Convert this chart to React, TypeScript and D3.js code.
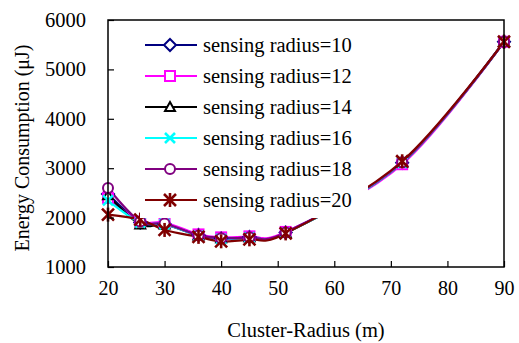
import React, { useRef, useEffect } from "react";
import * as d3 from "d3";

const clusterRadius = [20, 25.7, 30, 36, 40, 45, 51.4, 72, 90];
const r10 = [2480, 1900, 1870, 1650, 1580, 1610, 1700, 3110, 5560];
const r12 = [2400, 1920, 1900, 1660, 1600, 1620, 1710, 3080, 5560];
const r14 = [2450, 1860, 1860, 1640, 1580, 1600, 1690, 3110, 5560];
const r16 = [2350, 1900, 1870, 1630, 1570, 1600, 1690, 3110, 5560];
const r18 = [2600, 1920, 1880, 1640, 1580, 1600, 1700, 3120, 5560];
const r20 = [2060, 1960, 1750, 1610, 1520, 1560, 1680, 3140, 5560];
const seriesNames = [
    "sensing radius=10",
    "sensing radius=12",
    "sensing radius=14",
    "sensing radius=16",
    "sensing radius=18",
    "sensing radius=20",
];
const xTicks = [20, 30, 40, 50, 60, 70, 80, 90];
const yTicks = [1000, 2000, 3000, 4000, 5000, 6000];

const seriesValues = [r10, r12, r14, r16, r18, r20];
const colors = ["#000080", "#ff00ff", "#000000", "#00ffff", "#800080", "#800000"];
const shapes = ["diamond", "square", "triangle", "x", "circle", "star"];

const drawMarker = (
    g: d3.Selection<SVGGElement, unknown, null, undefined>,
    shape: string,
    color: string,
    cx: number,
    cy: number
) => {
    const s = 5;
    if (shape === "diamond") {
        g.append("path")
            .attr("d", `M${cx},${cy - s - 1}L${cx + s + 1},${cy}L${cx},${cy + s + 1}L${cx - s - 1},${cy}Z`)
            .attr("fill", "#fff")
            .attr("stroke", color)
            .attr("stroke-width", 2);
    } else if (shape === "square") {
        g.append("rect")
            .attr("x", cx - s)
            .attr("y", cy - s)
            .attr("width", 2 * s)
            .attr("height", 2 * s)
            .attr("fill", "#fff")
            .attr("stroke", color)
            .attr("stroke-width", 2);
    } else if (shape === "triangle") {
        g.append("path")
            .attr("d", `M${cx},${cy - s}L${cx + s},${cy + s - 1}L${cx - s},${cy + s - 1}Z`)
            .attr("fill", "#fff")
            .attr("stroke", color)
            .attr("stroke-width", 2);
    } else if (shape === "circle") {
        g.append("circle")
            .attr("cx", cx)
            .attr("cy", cy)
            .attr("r", s)
            .attr("fill", "#fff")
            .attr("stroke", color)
            .attr("stroke-width", 2);
    } else {
        const t = shape === "star" ? s + 1 : s;
        g.append("path")
            .attr("d", `M${cx - t},${cy - t}L${cx + t},${cy + t}M${cx + t},${cy - t}L${cx - t},${cy + t}`)
            .attr("stroke", color)
            .attr("stroke-width", 2.6);
        if (shape === "star") {
            g.append("path")
                .attr("d", `M${cx},${cy - t - 1}L${cx},${cy + t + 1}`)
                .attr("stroke", color)
                .attr("stroke-width", 2.6);
        }
    }
};

const App: React.FC = () => {
    const svgRef = useRef<SVGSVGElement | null>(null);

    useEffect(() => {
        if (!svgRef.current) return;
        const svg = d3.select(svgRef.current);
        svg.selectAll("*").remove();

        const margin = { top: 20, right: 15, bottom: 76, left: 108 };
        const width = 519;
        const height = 343;
        const font = "Liberation Serif, serif";

        const x = d3
            .scaleLinear()
            .domain([20, 90])
            .range([margin.left, width - margin.right]);
        const y = d3
            .scaleLinear()
            .domain([1000, 6000])
            .range([height - margin.bottom, margin.top]);

        // series lines, smoothed like the original spreadsheet
        const line = d3
            .line<number>()
            .x((_, i) => x(clusterRadius[i]))
            .y((d) => y(d))
            .curve(d3.curveCardinal.tension(0));

        seriesValues.forEach((vals, k) => {
            svg.append("path")
                .datum(vals)
                .attr("d", line)
                .attr("fill", "none")
                .attr("stroke", colors[k])
                .attr("stroke-width", 2.2);
        });
        seriesValues.forEach((vals, k) => {
            const g = svg.append("g");
            vals.forEach((v, i) => drawMarker(g, shapes[k], colors[k], x(clusterRadius[i]), y(v)));
        });

        // legend (white box hides the lines behind it)
        const legend = svg.append("g").attr("transform", "translate(140,29)");
        legend.append("rect").attr("width", 228).attr("height", 189).attr("fill", "#fff");
        seriesNames.forEach((name, k) => {
            const ly = 16 + k * 31;
            legend.append("line")
                .attr("x1", 5)
                .attr("x2", 57)
                .attr("y1", ly)
                .attr("y2", ly)
                .attr("stroke", colors[k])
                .attr("stroke-width", 2.2);
            drawMarker(legend, shapes[k], colors[k], 30, ly);
            legend.append("text")
                .attr("x", 63)
                .attr("y", ly)
                .attr("dy", "0.35em")
                .style("font-family", font)
                .style("font-size", "20.5px")
                .attr("fill", "#000")
                .text(name);
        });

        // frame
        svg.append("rect")
            .attr("x", margin.left)
            .attr("y", margin.top)
            .attr("width", width - margin.right - margin.left)
            .attr("height", height - margin.bottom - margin.top)
            .attr("fill", "none")
            .attr("stroke", "#000")
            .attr("stroke-width", 1.5);

        // axes with inward ticks
        svg.append("g")
            .attr("transform", `translate(0,${height - margin.bottom})`)
            .call(d3.axisBottom(x).tickValues(xTicks).tickSizeInner(-6).tickSizeOuter(0).tickPadding(14))
            .call((g) => g.select(".domain").remove())
            .call((g) => g.selectAll("line").attr("stroke-width", 1.2))
            .call((g) =>
                g.selectAll("text").style("font-family", font).style("font-size", "20px").attr("fill", "#000")
            );

        svg.append("g")
            .attr("transform", `translate(${margin.left},0)`)
            .call(d3.axisLeft(y).tickValues(yTicks).tickFormat(d3.format("d")).tickSizeInner(-6).tickSizeOuter(0).tickPadding(22))
            .call((g) => g.select(".domain").remove())
            .call((g) => g.selectAll("line").attr("stroke-width", 1.2))
            .call((g) =>
                g.selectAll("text").style("font-family", font).style("font-size", "20.5px").attr("fill", "#000")
            );

        // axis titles
        svg.append("text")
            .attr("x", (margin.left + width - margin.right) / 2)
            .attr("y", 337)
            .attr("text-anchor", "middle")
            .style("font-family", font)
            .style("font-size", "20.5px")
            .text("Cluster-Radius (m)");

        svg.append("text")
            .attr("transform", `translate(29,148) rotate(-90)`)
            .attr("text-anchor", "middle")
            .style("font-family", font)
            .style("font-size", "20px")
            .text("Energy Consumption (μJ)");
    }, []);

    return (
        <div style={{ position: "fixed", left: 0, top: 0 }}>
            <svg ref={svgRef} width={519} height={343} style={{ display: "block", background: "#fff" }}></svg>
        </div>
    );
};

export default App;
